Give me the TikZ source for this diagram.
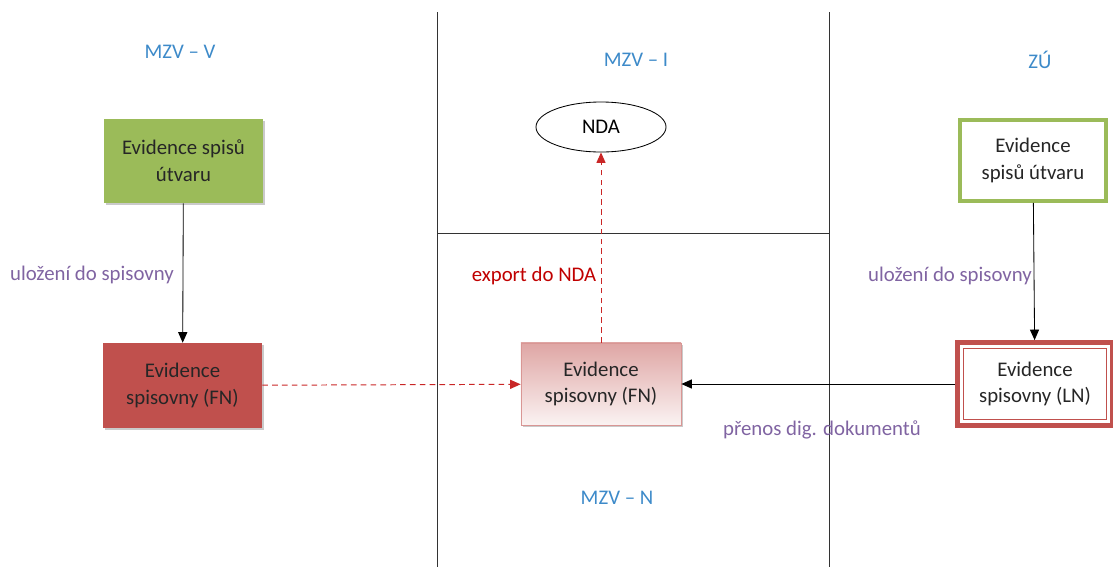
\documentclass[tikz,border=0pt]{standalone}
\usepackage{fontspec}
\setmainfont{Carlito}
\usetikzlibrary{shapes.geometric}
\usetikzlibrary{shadows}
\usetikzlibrary{arrows.meta}

\definecolor{boxgreen}{HTML}{9BBB59}
\definecolor{boxred}{HTML}{C0504D}
\definecolor{boxpink}{HTML}{D99694}
\definecolor{lblue}{HTML}{3D8AC9}
\definecolor{lpurple}{HTML}{8064A2}
\definecolor{ldred}{HTML}{C00000}

\tikzset{
    evbox/.style={rectangle, align=center, minimum width=3.975cm, minimum height=2.1cm,
        font=\fontsize{14.8}{19}\selectfont, text=black!85},
    boxshadow/.style={drop shadow={shadow xshift=1.5pt, shadow yshift=-1.5pt, fill=black!35, opacity=0.6}},
    lane/.style={draw=black!80, line width=0.7pt},
    lanelabel/.style={font=\fontsize{14.8}{18}\selectfont, text=lblue},
    flowlabel/.style={font=\fontsize{14.8}{18}\selectfont, text=lpurple},
    solidarrow/.style={-{Triangle[length=7.5pt, width=6.5pt]}, line width=0.6pt},
    dasharrow/.style={-{Triangle[length=7.5pt, width=6.5pt]}, line width=0.7pt, draw=ldred!85,
        dash pattern=on 4pt off 3pt}
}

\begin{document}
\begin{tikzpicture}[x=0.025cm, y=-0.025cm]
    \useasboundingbox (0,0) rectangle (1113,567);

    % swimlanes
    \draw[lane] (437,12) -- (437,567);
    \draw[lane] (829,12) -- (829,567);
    \draw[lane] (437,233) -- (829,233);

    \node[lanelabel] (mzvv) at (180,52) {MZV – V};
    \node[lanelabel] (mzvi) at (636,60) {MZV – I};
    \node[lanelabel] (zu) at (1040,60) {ZÚ};
    \node[lanelabel] (mzvn) at (617,498) {MZV – N};

    % boxes
    \node[evbox, boxshadow, fill=boxgreen] (vspis) at (183.5,161) {Evidence spisů\\útvaru};
    \node[evbox, boxshadow, fill=boxred, minimum height=2.125cm] (vfn) at (182.5,385.5) {Evidence\\spisovny (FN)};
    \node[evbox, boxshadow, draw=boxpink, line width=0.5pt, shading angle=200,
        top color=boxpink!85, bottom color=boxpink!12, minimum width=4cm, minimum height=2.05cm]
        (nfn) at (601,384) {Evidence\\spisovny (FN)};
    \node[ellipse, draw, line width=0.6pt, minimum width=3.25cm, minimum height=1.25cm,
        font=\fontsize{14.8}{18}\selectfont] (nda) at (601,127) {NDA};
    \node[evbox, draw=boxgreen, fill=white, line width=2.8pt, minimum width=3.65cm,
        minimum height=2.025cm] (zspis) at (1033,160.5) {Evidence\\spisů útvaru};
    \node[evbox, draw=boxred, fill=white, line width=3.4pt, minimum width=3.875cm,
        minimum height=2.075cm] (zln) at (1035,384) {Evidence\\spisovny (LN)};
    \draw[boxred, line width=1.2pt] ([shift={(8.5,-8.5)}]zln.south west) rectangle ([shift={(-8.5,8.5)}]zln.north east);

    % flows
    \draw[solidarrow] (vspis) -- (vfn);
    \node[flowlabel] (vlbl) at (92,275) {uložení do spisovny};
    \draw[dasharrow] (vfn) -- (nfn);
    \draw[dasharrow] (nfn) -- (nda);
    \node[text=ldred, font=\fontsize{14.8}{18}\selectfont] (exlbl) at (534,276) {export do NDA};
    \draw[solidarrow] (zspis) -- (zln);
    \node[flowlabel] (zlbl) at (950,276) {uložení do spisovny};
    \draw[solidarrow] (zln) -- (nfn);
    \node[flowlabel] (prlbl) at (822,430) {přenos dig. dokumentů};
\end{tikzpicture}
\end{document}
